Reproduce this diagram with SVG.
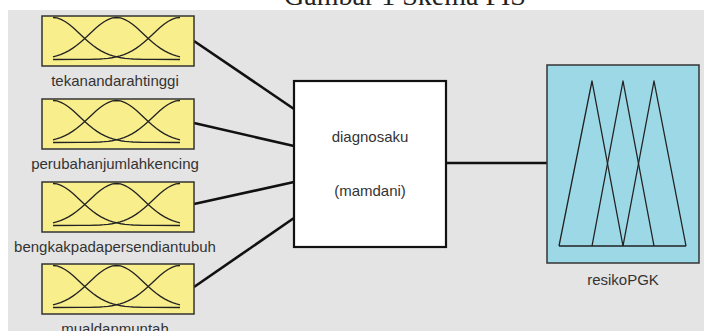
<svg xmlns="http://www.w3.org/2000/svg" xmlns:xlink="http://www.w3.org/1999/xlink" width="704" height="331" viewBox="0 0 704 331">
  <style>
    .panel { fill: #e4e4e4; }
    .title { font-family: "Liberation Serif", "Times New Roman", serif; font-size: 28px; fill: #222; text-anchor: middle; }
    .label { font-family: "Liberation Sans", Arial, sans-serif; font-size: 15px; fill: #333; text-anchor: middle; }
    .in-box { fill: #f8ee8c; stroke: #333; stroke-width: 1.5; }
    .out-box { fill: #9cd8e6; stroke: #333; stroke-width: 1.5; }
    .rule-box { fill: #ffffff; stroke: #111; stroke-width: 2.2; }
    .mf { fill: none; stroke: #222; stroke-width: 1.3; stroke-linejoin: round; }
    .wire { stroke: #111; stroke-width: 2.6; fill: none; }
  </style>
  <defs>
    <!-- three gaussian membership functions, box-local coordinates (152 x 50) -->
    <g id="mf-gauss">
      <rect class="in-box" x="0" y="0" width="152" height="50"/>
      <polyline class="mf" points="11,1.5 15,1.96 19,3.31 23,5.45 27,8.26 31,11.58 35,15.19 39,18.97 43,22.71 47,26.24 51,29.47 55,32.37 59,34.85 63,36.91 67,38.63 71,39.94 75,40.97 79,41.74 83,42.3 87,42.7 91,42.98 101,43.34 111,43.46 138,43.5"/>
      <polyline class="mf" points="11,40.85 14.5,39.94 18.5,38.63 22.5,36.91 26.5,34.85 30.5,32.37 34.5,29.47 38.5,26.24 42.5,22.71 46.5,18.97 50.5,15.19 54.5,11.58 58.5,8.26 62.5,5.45 66.5,3.31 70.5,1.96 74.5,1.5 78.5,1.96 82.5,3.31 86.5,5.45 90.5,8.26 94.5,11.58 98.5,15.19 102.5,18.97 106.5,22.71 110.5,26.24 114.5,29.47 118.5,32.37 122.5,34.85 126.5,36.91 130.5,38.63 134.5,39.94 138,40.85"/>
      <polyline class="mf" points="138,1.5 134,1.96 130,3.31 126,5.45 122,8.26 118,11.58 114,15.19 110,18.97 106,22.71 102,26.24 98,29.47 94,32.37 90,34.85 86,36.91 82,38.63 78,39.94 74,40.97 70,41.74 66,42.3 62,42.7 58,42.98 48,43.34 38,43.46 11,43.5"/>
    </g>
  </defs>

  <rect x="0" y="0" width="704" height="331" fill="#ffffff"/>
  <rect class="panel" x="8" y="10" width="696" height="321"/>
  <text class="title" x="405" y="5">Gambar 1 Skema FIS</text>

  <g id="connectors">
    <line class="wire" x1="194" y1="41" x2="294" y2="109"/>
    <line class="wire" x1="194" y1="123" x2="294" y2="146"/>
    <line class="wire" x1="194" y1="204" x2="294" y2="182"/>
    <line class="wire" x1="194" y1="287" x2="294" y2="218"/>
    <line class="wire" x1="446" y1="163" x2="547" y2="163"/>
  </g>

  <g id="tekanandarahtinggi">
    <use xlink:href="#mf-gauss" transform="translate(42,16)"/>
    <text class="label" x="115" y="86">tekanandarahtinggi</text>
  </g>
  <g id="perubahanjumlahkencing">
    <use xlink:href="#mf-gauss" transform="translate(42,99)"/>
    <text class="label" x="115" y="169">perubahanjumlahkencing</text>
  </g>
  <g id="bengkakpadapersendiantubuh">
    <use xlink:href="#mf-gauss" transform="translate(42,182)"/>
    <text class="label" x="115" y="252">bengkakpadapersendiantubuh</text>
  </g>
  <g id="mualdanmuntah">
    <use xlink:href="#mf-gauss" transform="translate(42,264)"/>
    <text class="label" x="115" y="334">mualdanmuntah</text>
  </g>

  <g id="diagnosaku">
    <rect class="rule-box" x="294" y="81" width="152" height="166"/>
    <text class="label" x="370" y="142">diagnosaku</text>
    <text class="label" x="370" y="196">(mamdani)</text>
  </g>

  <g id="resikoPGK">
    <rect class="out-box" x="547" y="65" width="152" height="198"/>
    <polyline class="mf" points="559,246 592,81 623,246"/>
    <polyline class="mf" points="592,246 623,81 654,246"/>
    <polyline class="mf" points="623,246 654,81 686,246"/>
    <line class="mf" x1="559" y1="246" x2="686" y2="246"/>
    <text class="label" x="623" y="285">resikoPGK</text>
  </g>
</svg>
